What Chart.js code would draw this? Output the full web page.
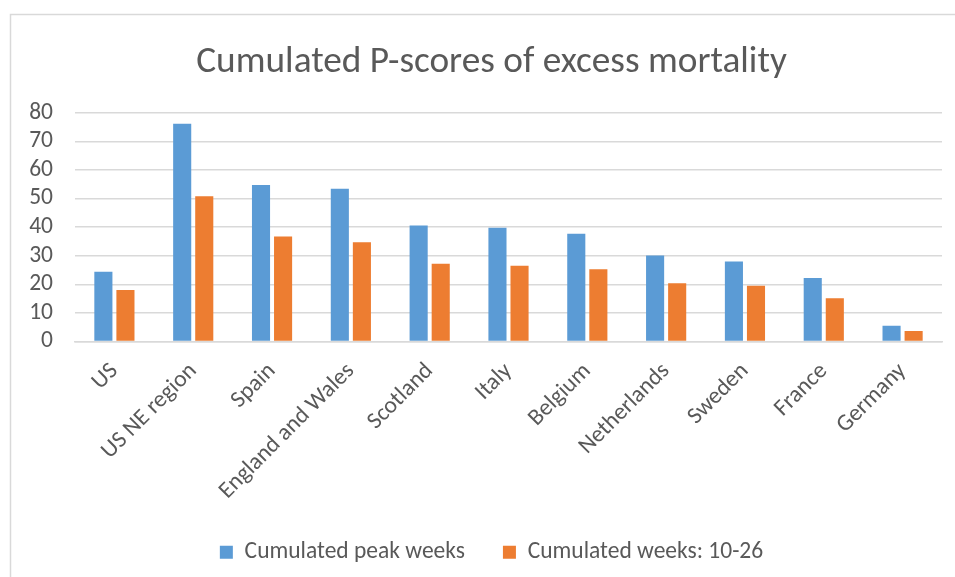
<!DOCTYPE html>
<html>
<head>
<meta charset="utf-8">
<script src="https://cdn.jsdelivr.net/npm/chart.js@4/dist/chart.umd.min.js"></script>
<style>
  html, body { margin: 0; padding: 0; background: #fff; }
  #wrap { width: 955px; height: 577px; position: relative; }
</style>
</head>
<body>
<div id="wrap"><canvas id="c" width="955" height="577"></canvas></div>
<script>
const categories = ["US", "US NE region", "Spain", "England and Wales", "Scotland", "Italy", "Belgium", "Netherlands", "Sweden", "France", "Germany"];
const peakWeeks = [24.4, 76.2, 54.7, 53.4, 40.6, 39.8, 37.7, 30.1, 28.0, 22.2, 5.5];
const weeks10to26 = [18.0, 50.8, 36.7, 34.7, 27.2, 26.5, 25.3, 20.4, 19.5, 15.1, 3.7];
const seriesNames = ["Cumulated peak weeks", "Cumulated weeks: 10-26"];
const yTicks = [0, 10, 20, 30, 40, 50, 60, 70, 80];
const titleText = "Cumulated P-scores of excess mortality";

const FONT = "Carlito, 'Open Sans', 'Liberation Sans', sans-serif";
const TXT = "#595959";

const framePlugin = {
  id: 'frame',
  beforeDraw(chart) {
    const ctx = chart.ctx;
    ctx.save();
    ctx.fillStyle = '#fff';
    ctx.fillRect(0, 0, chart.width, chart.height);
    ctx.strokeStyle = '#D9D9D9';
    ctx.lineWidth = 1.5;
    ctx.beginPath();
    ctx.moveTo(10.5, chart.height + 2);
    ctx.lineTo(10.5, 14.5);
    ctx.lineTo(chart.width + 2, 14.5);
    ctx.stroke();
    ctx.restore();
  }
};

new Chart(document.getElementById('c'), {
  type: 'bar',
  data: {
    labels: categories,
    datasets: [
      { label: seriesNames[0], data: peakWeeks, backgroundColor: '#5B9BD5', borderWidth: 0,
        categoryPercentage: 0.56, barPercentage: 0.82 },
      { label: seriesNames[1], data: weeks10to26, backgroundColor: '#ED7D31', borderWidth: 0,
        categoryPercentage: 0.56, barPercentage: 0.82 }
    ]
  },
  options: {
    responsive: false,
    animation: false,
    devicePixelRatio: 1,
    layout: { padding: { left: 11, top: 14, right: -17, bottom: 3 } },
    plugins: {
      title: {
        display: true, text: titleText, color: TXT,
        font: { family: FONT, size: 37.3, weight: 'normal' },
        padding: { top: 26, bottom: 28 }
      },
      legend: {
        position: 'bottom',
        labels: {
          color: TXT, font: { family: FONT, size: 23.5 },
          boxWidth: 13, boxHeight: 13, padding: 38
        }
      },
      tooltip: { enabled: false }
    },
    scales: {
      x: {
        grid: { display: false, drawTicks: false },
        border: { display: true, color: '#D9D9D9', width: 1.5 },
        ticks: { color: TXT, font: { family: FONT, size: 23.5 }, maxRotation: 45, minRotation: 45, padding: 16, autoSkip: false },
        afterFit(scale) { scale.height = 161; }
      },
      y: {
        min: 0, max: 80,
        afterBuildTicks(scale) { scale.ticks = yTicks.map(v => ({ value: v })); },
        grid: { color: '#D9D9D9', lineWidth: 1.5, drawTicks: false },
        border: { display: false },
        ticks: { color: TXT, font: { family: FONT, size: 23.5 }, padding: 22, autoSkip: false },
        afterFit(scale) { scale.width = 64; }
      },
      yRight: {
        position: 'right',
        display: true,
        grid: { display: false, drawTicks: false },
        border: { display: false },
        ticks: { display: false },
        afterFit(scale) { scale.width = 30; }
      }
    }
  },
  plugins: [framePlugin]
});
</script>
</body>
</html>
